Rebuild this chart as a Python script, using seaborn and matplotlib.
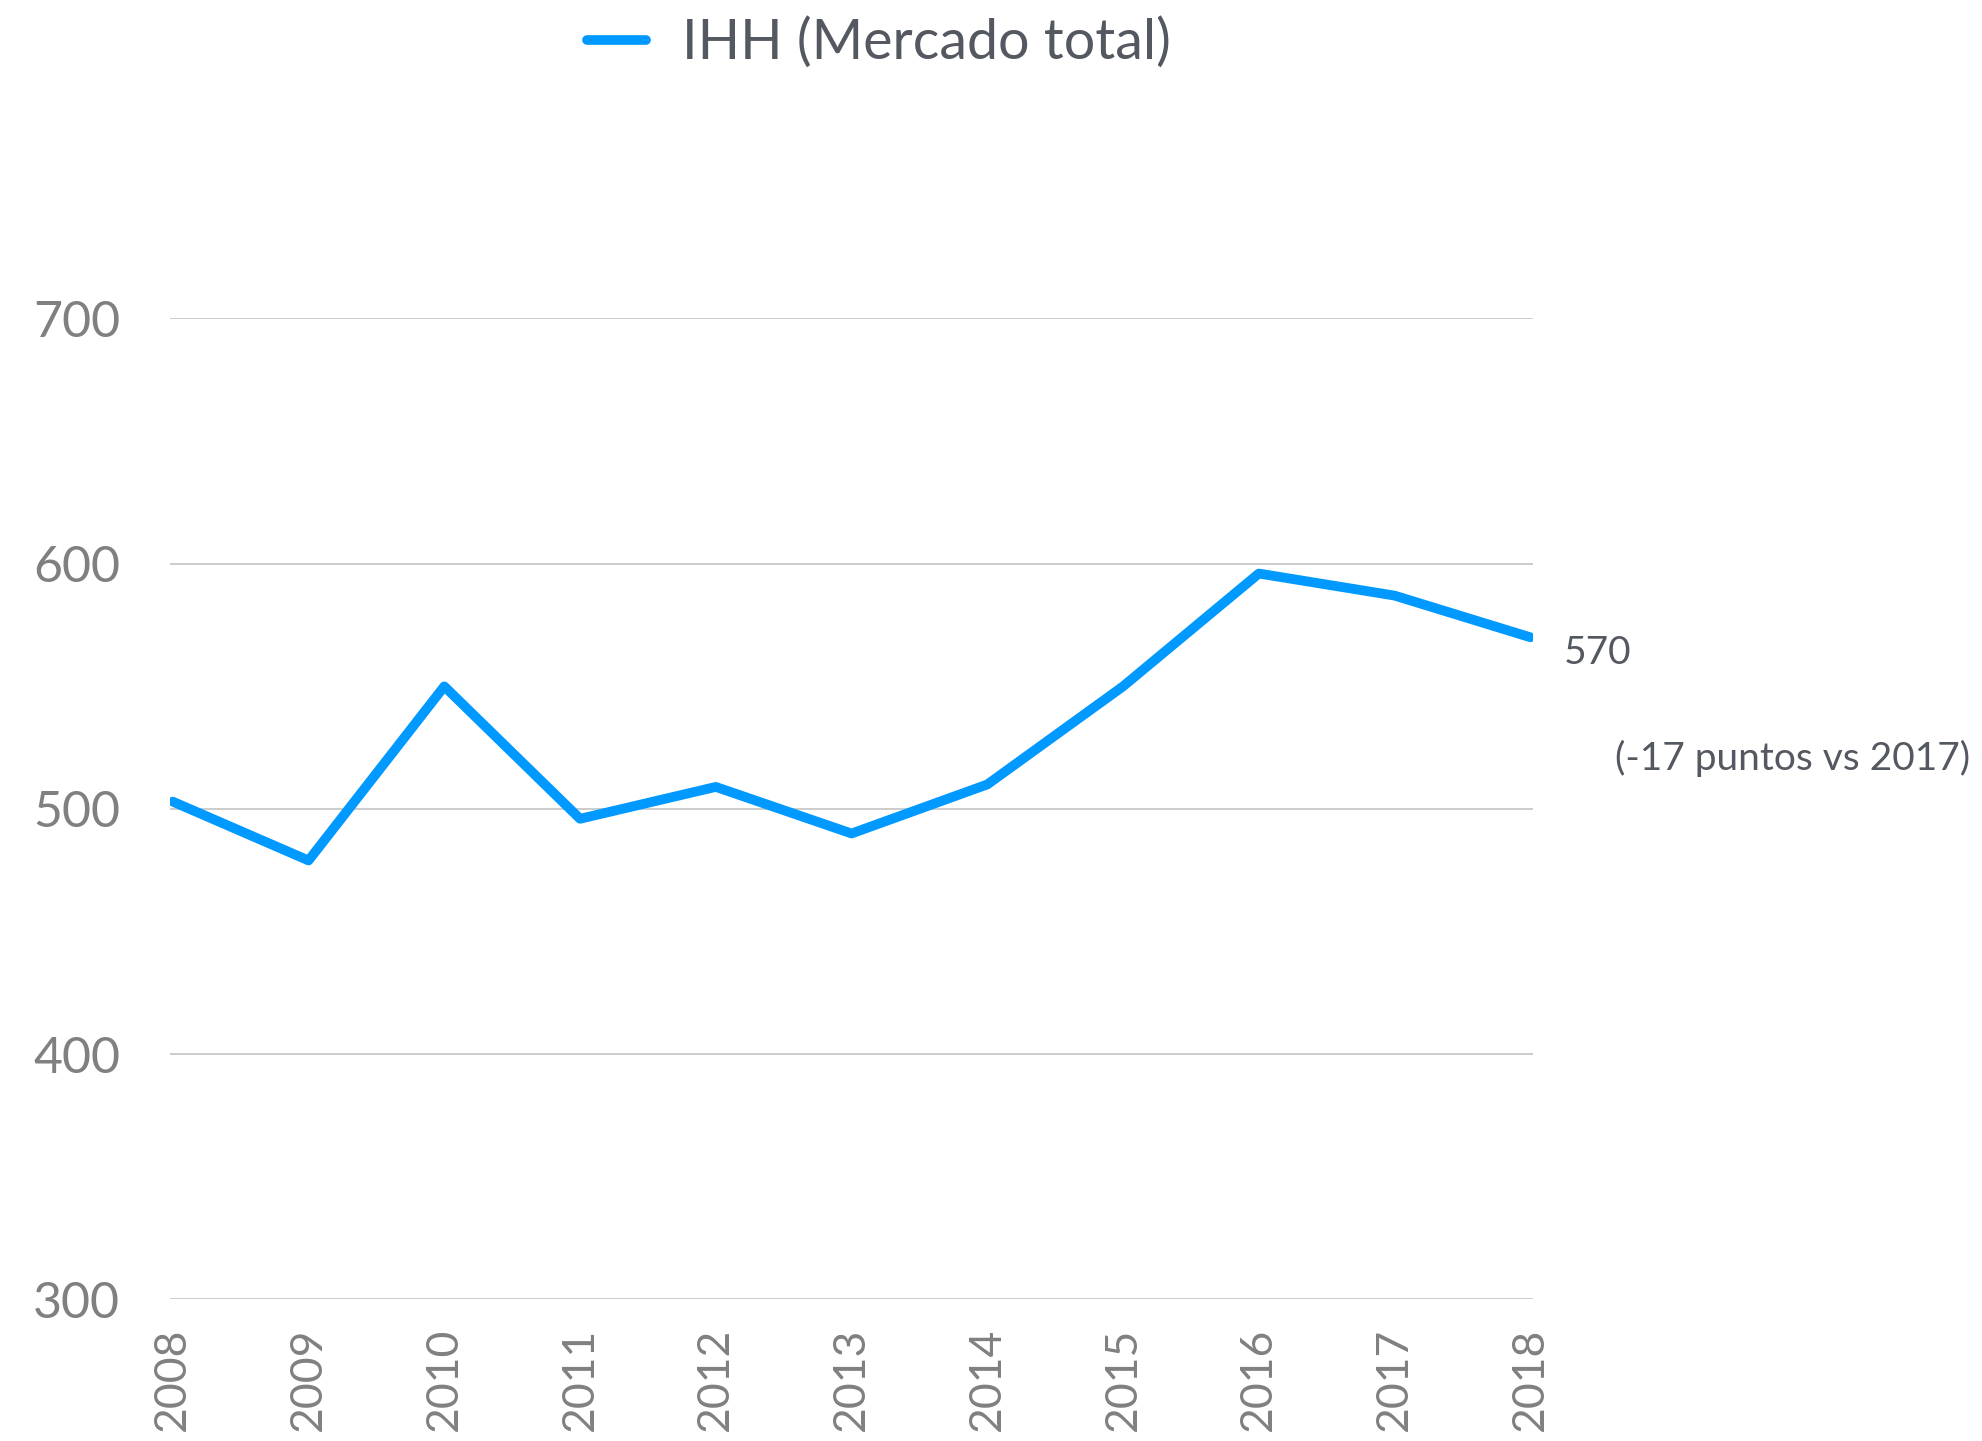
import matplotlib
matplotlib.use("Agg")
import pandas as pd
import matplotlib.pyplot as plt
import seaborn as sns

# Data
years = [2008, 2009, 2010, 2011, 2012, 2013, 2014, 2015, 2016, 2017, 2018]
ihh = [503, 479, 550, 496, 509, 490, 510, 550, 596, 587, 570]
y_ticks = [300, 400, 500, 600, 700]
series_label = "IHH (Mercado total)"
last_label = "570"
change_label = "(-17 puntos vs 2017)"

df = pd.DataFrame({"Año": years, "IHH": ihh})

sns.set_style("white")
plt.rcParams["font.family"] = ["Lato", "DejaVu Sans"]

fig = plt.figure(figsize=(19.82, 14.41), dpi=100)
ax = fig.add_axes([0.0858, 0.0982, 0.6877, 0.6808])

sns.lineplot(data=df, x="Año", y="IHH", color="#0099ff", linewidth=7.0,
             label=series_label, ax=ax)

ax.set_ylim(300, 700)
ax.set_xlim(2007.98, 2018.02)
ax.set_yticks(y_ticks)
ax.set_xticks(years)
ax.set_xticklabels([str(y) for y in years], rotation=90)
ax.grid(axis="y", color="#c8c8c8", linewidth=1.3)
ax.set_axisbelow(True)
ax.set_xlabel("")
ax.set_ylabel("")
for s in ax.spines.values():
    s.set_visible(False)
ax.tick_params(axis="y", length=0, pad=36, labelsize=36, labelcolor="#808080")
ax.tick_params(axis="x", length=0, pad=20, labelsize=32, labelcolor="#808080")

# end-of-line annotation
ax.annotate(last_label, xy=(years[-1], ihh[-1]), xytext=(24, -11),
            textcoords="offset points", fontsize=28, color="#545860",
            va="center", ha="left")
ax.annotate(change_label, xy=(years[-1], ihh[-1]), xytext=(61, -87),
            textcoords="offset points", fontsize=28, color="#545860",
            va="center", ha="left")

ax.legend_.remove()
handles, labels = ax.get_legend_handles_labels()
fig.legend(handles, labels, loc="center", bbox_to_anchor=(0.4435, 0.970),
           frameon=False, fontsize=40, handlelength=1.05, handletextpad=0.65,
           labelcolor="#545860")

fig.savefig("out.png", dpi=100)
